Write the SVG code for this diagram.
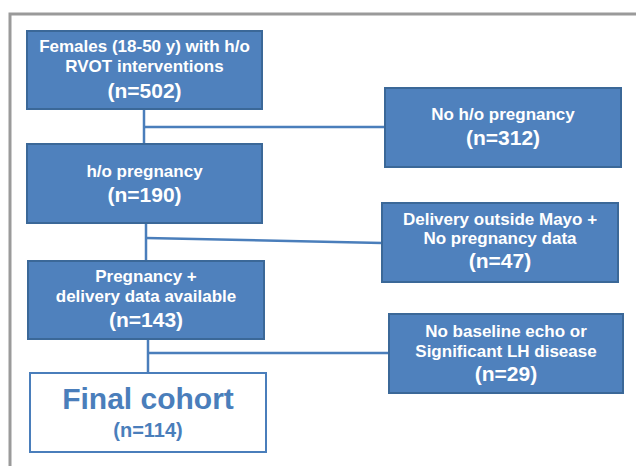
<svg xmlns="http://www.w3.org/2000/svg" width="636" height="466" viewBox="0 0 636 466">
<style>
.box{fill:#4f81bd;stroke:#3b6898;stroke-width:2}
.wbox{fill:#ffffff;stroke:#4a7ebb;stroke-width:2}
.t{font-family:"Liberation Sans",Arial,sans-serif;font-weight:bold;fill:#ffffff;text-anchor:middle;font-size:17px}
.n{font-size:21px}
.b{fill:#4a7ebb}
.c{stroke:#4a7ebb;stroke-width:2.5;fill:none}
</style>
<rect width="636" height="466" fill="#ffffff"/>
<path d="M10 466 V14 H636" fill="none" stroke="#9a9a9a" stroke-width="3"/>
<g id="connectors">
<path class="c" d="M144 109 V145"/>
<path class="c" d="M144 127 H385"/>
<path class="c" d="M146 223 V261"/>
<path class="c" d="M146 238 L382 243"/>
<path class="c" d="M148 339 V373"/>
<path class="c" d="M148 353 H389"/>
</g>
<g id="n1">
<rect class="box" x="27" y="31" width="235" height="78"/>
<text class="t" x="144.5" y="52">Females (18-50 y) with h/o</text>
<text class="t" x="144.5" y="72">RVOT interventions</text>
<text class="t n" x="144.5" y="98">(n=502)</text>
</g>
<g id="n2">
<rect class="box" x="385" y="88" width="236" height="79"/>
<text class="t" x="503" y="120">No h/o pregnancy</text>
<text class="t n" x="503" y="145">(n=312)</text>
</g>
<g id="n3">
<rect class="box" x="27" y="144" width="235" height="79"/>
<text class="t" x="144.5" y="177">h/o pregnancy</text>
<text class="t n" x="144.5" y="202">(n=190)</text>
</g>
<g id="n4">
<rect class="box" x="382" y="203" width="236" height="79"/>
<text class="t" x="500" y="225">Delivery outside Mayo +</text>
<text class="t" x="500" y="244">No pregnancy data</text>
<text class="t n" x="500" y="268">(n=47)</text>
</g>
<g id="n5">
<rect class="box" x="28" y="261" width="236" height="78"/>
<text class="t" x="146" y="282">Pregnancy +</text>
<text class="t" x="146" y="302">delivery data available</text>
<text class="t n" x="146" y="327">(n=143)</text>
</g>
<g id="n6">
<rect class="box" x="389" y="314" width="234" height="79"/>
<text class="t" x="506" y="337">No baseline echo or</text>
<text class="t" x="506" y="357">Significant LH disease</text>
<text class="t n" x="506" y="381">(n=29)</text>
</g>
<g id="n7">
<rect class="wbox" x="30" y="373" width="236" height="79"/>
<text class="t b" x="148" y="409" style="font-size:30px">Final cohort</text>
<text class="t n b" x="148" y="437" style="font-size:20px">(n=114)</text>
</g>
</svg>
